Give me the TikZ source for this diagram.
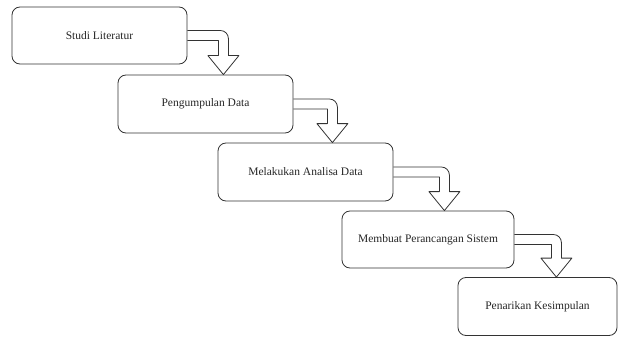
\documentclass[tikz,border=0pt]{standalone}
\usepackage{fontspec}
\setmainfont{Liberation Serif}
\usetikzlibrary{calc}

% panah belok dari sisi kanan kotak ke atas kotak berikutnya
\newcommand{\panah}[3]{%
  \draw[panahstyle] let \p1=(#1.east), \p2=(#2.north) in
    (\x1,\y1+5pt) -- (\x1+#3-3pt,\y1+5pt)
    arc[start angle=90, end angle=0, radius=8pt]
    -- (\x1+#3+5pt,\y2+19pt) -- (\x1+#3+15.5pt,\y2+19pt)
    -- (\x1+#3,\y2) -- (\x1+#3-15.5pt,\y2+19pt)
    -- (\x1+#3-5pt,\y2+19pt) -- (\x1+#3-5pt,\y1-5pt) -- (\x1,\y1-5pt);}

\begin{document}
\begin{tikzpicture}[
            x=1pt, y=-1pt,
            tahap/.style={shape=rectangle, rounded corners=8pt, draw=black!80, line width=0.8pt,
                font=\fontsize{11.5}{13}\selectfont, text=black!85, inner sep=0pt},
            panahstyle/.style={draw=black!80, line width=0.8pt, line join=round},
        ]
        \useasboundingbox (0,0) rectangle (619,337);

        \node[tahap, minimum width=175pt, minimum height=57pt] (studi) at (99.5, 35.5) {Studi Literatur};
        \node[tahap, minimum width=175pt, minimum height=58pt] (data) at (205.5, 104) {Pengumpulan Data};
        \node[tahap, minimum width=175pt, minimum height=58pt] (analisa) at (305.5, 172) {Melakukan Analisa Data};
        \node[tahap, minimum width=172pt, minimum height=57pt] (rancang) at (428, 239.5) {Membuat Perancangan Sistem};
        \node[tahap, minimum width=159pt, minimum height=58pt] (simpul) at (537.5, 306.5) {Penarikan Kesimpulan};

        \panah{studi}{data}{36pt}
        \panah{data}{analisa}{39pt}
        \panah{analisa}{rancang}{51pt}
        \panah{rancang}{simpul}{42pt}

    \end{tikzpicture}
\end{document}
